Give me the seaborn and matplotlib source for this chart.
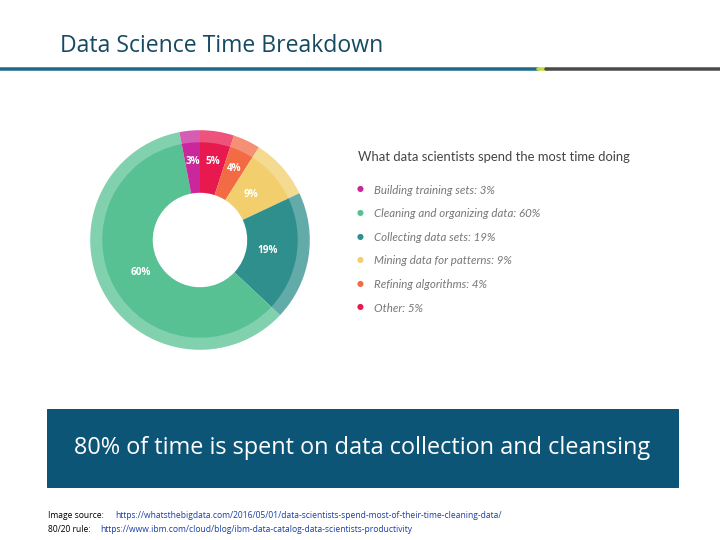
import matplotlib
matplotlib.use('Agg')
import matplotlib.pyplot as plt
import seaborn as sns
import numpy as np
from matplotlib.patches import Rectangle

sns.set_theme(style='white')
plt.rcParams['font.family'] = ['Open Sans', 'DejaVu Sans']

# clockwise from 12 o'clock
labels = ['Other', 'Refining algorithms', 'Mining data for patterns',
          'Collecting data sets', 'Cleaning and organizing data', 'Building training sets']
shares = [5, 4, 9, 19, 60, 3]
colors = ['#e8194f', '#f26b45', '#f2cf6c', '#2f8f8c', '#57c193', '#c9279b']
legend_order = [5, 4, 3, 2, 1, 0]

W, H = 720, 540
fig = plt.figure(figsize=(W / 72, H / 72), dpi=72)

# header
fig.text(60 / W, 1 - 46 / H, 'Data Science Time Breakdown', fontsize=23,
         color='#164a63', va='center', family=['Liberation Sans Narrow', 'Open Sans'])
fig.add_artist(plt.Line2D([0, 538 / W], [1 - 69 / H] * 2, color='#1d6b8a', lw=3.5))
fig.add_artist(plt.Line2D([538 / W, 546 / W], [1 - 69 / H] * 2, color='#c8d93a', lw=3.5))
fig.add_artist(plt.Line2D([546 / W, 1], [1 - 69 / H] * 2, color='#4a4a4a', lw=3.5))

# donut
ax = fig.add_axes([88 / W, 1 - 352 / H, 224 / W, 224 / H])
ax.pie(shares, colors=colors, startangle=90, counterclock=False, radius=1.0,
       wedgeprops=dict(width=0.12, alpha=0.75, linewidth=0))
wedges, texts = ax.pie(shares, colors=colors, startangle=90, counterclock=False,
                       radius=0.89, wedgeprops=dict(width=0.46, linewidth=0))
ang = 90
for s in shares:
    mid = np.deg2rad(ang - s * 3.6 / 2)
    r = 0.62 if s > 5 else 0.72
    ax.text(r * np.cos(mid), r * np.sin(mid), f'{s}%', color='white',
            fontsize=10, fontweight='bold', ha='center', va='center')
    ang -= s * 3.6
ax.set_aspect('equal')
ax.set_xlim(-1.02, 1.02)
ax.set_ylim(-1.02, 1.02)
ax.axis('off')

# legend
fig.text(358 / W, 1 - 157 / H, 'What data scientists spend the most time doing',
         fontsize=13, color='#444444', va='center', family=['Lato', 'DejaVu Sans'])
for k, i in enumerate(legend_order):
    y = 1 - (190 + k * 23.6) / H
    fig.text(357 / W, y, '●', color=colors[i], fontsize=8, va='center')
    fig.text(374 / W, y, f'{labels[i]}: {shares[i]}%', fontsize=11.5, color='#777777',
             style='italic', va='center', family=['Lato', 'DejaVu Sans'])

# banner
fig.add_artist(Rectangle((47 / W, 1 - 487 / H), 631 / W, 78 / H,
                         transform=fig.transFigure, color='#0c5576'))
fig.text(362 / W, 1 - 448 / H, '80% of time is spent on data collection and cleansing',
         fontsize=23.5, color='white', ha='center', va='center')

# sources
fig.text(48 / W, 1 - 516 / H, 'Image source:', fontsize=8.5, va='center', color='black')
fig.text(115 / W, 1 - 516 / H,
         'https://whatsthebigdata.com/2016/05/01/data-scientists-spend-most-of-their-time-cleaning-data/',
         fontsize=8.5, va='center', color='#1a3ea8')
fig.text(48 / W, 1 - 529 / H, '80/20 rule:', fontsize=8.5, va='center', color='black')
fig.text(100 / W, 1 - 529 / H,
         'https://www.ibm.com/cloud/blog/ibm-data-catalog-data-scientists-productivity',
         fontsize=8.5, va='center', color='#1a3ea8')

fig.savefig('out.png', dpi=72)
